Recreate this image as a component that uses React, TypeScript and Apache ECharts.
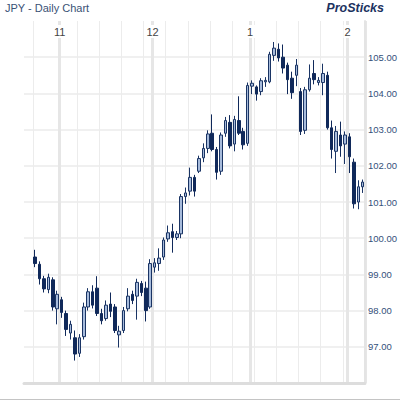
import React, { useEffect, useRef } from "react";
import * as echarts from "echarts";

// Number of daily slots on the axis and empty slots before the first candle
const slotCount = 77;
const leadingEmpty = 2;
const slots = Array.from({ length: slotCount }, (_, i) => String(i));

// Month starts (slot index) and their labels
const monthStarts = [8, 29, 51, 73];
const monthNames = ["11", "12", "1", "2"];

// Weekly grid lines (slot index)
const weekLines = [2, 12, 17, 22, 27, 32, 37, 42, 47, 52, 57, 62, 67, 72];

// Daily candles: [open, close, low, high]
const candles: number[][] = [
  [99.48, 99.3, 99.2, 99.68],
  [99.28, 98.88, 98.72, 99.36],
  [98.88, 98.6, 98.5, 98.96],
  [98.58, 98.92, 98.48, 99.02],
  [98.85, 98.1, 98.0, 98.92],
  [98.05, 98.45, 97.62, 98.55],
  [98.3, 97.95, 97.8, 98.38],
  [97.92, 97.48, 97.3, 98.0],
  [97.38, 97.62, 97.2, 97.72],
  [97.25, 96.8, 96.62, 97.45],
  [96.82, 97.25, 96.72, 97.35],
  [97.28, 98.1, 97.2, 98.22],
  [98.1, 98.52, 98.0, 98.62],
  [98.52, 98.15, 98.06, 98.7],
  [98.62, 97.92, 97.85, 98.95],
  [97.92, 97.72, 97.62, 98.05],
  [97.78, 98.15, 97.72, 98.28],
  [98.18, 97.98, 97.82, 98.5],
  [98.1, 97.45, 97.38, 98.18],
  [97.33, 97.43, 96.98, 97.58],
  [97.45, 98.0, 97.38, 98.1],
  [98.05, 98.4, 97.98, 98.62],
  [98.45, 98.28, 98.18, 98.55],
  [98.4, 98.78, 97.75, 98.88],
  [98.75, 98.5, 98.4, 98.82],
  [98.62, 98.0, 97.7, 98.8],
  [98.1, 99.3, 98.05, 99.42],
  [99.2, 99.32, 99.05, 99.45],
  [99.3, 99.45, 99.1, 99.72],
  [99.48, 99.95, 99.4, 100.02],
  [99.98, 100.15, 99.9, 100.35],
  [100.18, 100.02, 99.6, 100.4],
  [100.02, 100.12, 99.95, 100.2],
  [100.12, 101.15, 100.0, 101.22],
  [101.15, 101.25, 100.95, 101.4],
  [101.3, 101.68, 101.18, 101.95],
  [101.68, 101.3, 101.15, 101.75],
  [101.85, 102.2, 101.8, 102.28],
  [102.22, 102.48, 102.1, 102.62],
  [102.48, 102.88, 102.35, 102.98],
  [102.9, 102.45, 102.4, 103.42],
  [102.45, 101.82, 101.62, 102.52],
  [101.85, 102.85, 101.75, 102.92],
  [102.9, 103.25, 102.8, 103.35],
  [103.2, 102.55, 102.48, 103.4],
  [102.6, 103.28, 102.4, 103.38],
  [103.25, 102.9, 102.85, 103.92],
  [102.95, 102.58, 102.45, 103.05],
  [102.62, 104.22, 102.55, 104.3],
  [104.2, 104.28, 103.98, 104.36],
  [104.18, 103.98, 103.8, 104.22],
  [104.05, 104.35, 103.95, 104.42],
  [104.32, 104.36, 104.18, 104.45],
  [104.32, 105.08, 104.28, 105.15],
  [105.05, 105.25, 104.9, 105.42],
  [105.22, 104.98, 104.88, 105.38],
  [105.0, 104.7, 104.55, 105.35],
  [104.78, 104.38, 103.98, 104.85],
  [104.42, 104.02, 103.85, 104.6],
  [104.5, 104.78, 104.2, 104.95],
  [104.05, 102.95, 102.85, 104.15],
  [102.98, 104.1, 102.88, 104.18],
  [104.1, 104.42, 104.05, 104.8],
  [104.55, 104.38, 104.25, 104.92],
  [104.3, 104.36, 104.22, 104.45],
  [104.3, 104.55, 103.95, 104.82],
  [104.5, 103.05, 103.0, 104.6],
  [103.05, 102.45, 102.2, 103.25],
  [102.4, 102.95, 101.8, 103.1],
  [102.85, 102.55, 102.25, 103.22],
  [102.6, 102.85, 102.05, 102.95],
  [102.8, 102.25, 101.8, 102.9],
  [102.1, 100.95, 100.82, 102.2],
  [101.0, 101.42, 100.8, 101.6],
  [101.42, 101.55, 101.25, 101.62],
];

// Price axis
const priceMin = 96;
const priceMax = 106;
const priceStep = 1;

const titleText = "JPY - Daily Chart";
const brandText = "ProSticks";

export default function App() {
  const ref = useRef<HTMLDivElement>(null);

  useEffect(() => {
    if (!ref.current) return;
    const chart = echarts.init(ref.current, undefined, { renderer: "svg" });
    const seriesData: any[] = [
      ...Array.from({ length: leadingEmpty }, () => "-"),
      ...candles,
    ];
    chart.setOption({
      animation: false,
      backgroundColor: "#ffffff",
      title: [
        {
          text: titleText,
          left: 5,
          top: 2,
          padding: 0,
          textStyle: {
            fontFamily: "Liberation Sans, Arial, sans-serif",
            fontSize: 11,
            fontWeight: "normal",
            color: "#3a5275",
          },
        },
        {
          text: brandText,
          right: 16,
          top: 1,
          padding: 0,
          textStyle: {
            fontFamily: "Liberation Sans, Arial, sans-serif",
            fontSize: 12.5,
            fontWeight: "bold",
            fontStyle: "italic",
            color: "#1c3260",
          },
        },
      ],
      grid: {
        left: 24,
        right: 29.5,
        top: 21,
        bottom: 17,
        containLabel: false,
      },
      xAxis: [
        {
          type: "category",
          data: slots,
          position: "bottom",
          boundaryGap: true,
          axisLine: { show: true, lineStyle: { color: "#dddddd", width: 3 } },
          axisTick: { show: false },
          axisLabel: { show: false },
          splitLine: {
            show: true,
            interval: (i: number) => weekLines.includes(i),
            lineStyle: { color: "#ececec", width: 1 },
          },
        },
        {
          type: "category",
          data: slots,
          position: "top",
          boundaryGap: true,
          axisLine: { show: false },
          axisTick: { show: false },
          axisLabel: {
            show: true,
            inside: true,
            margin: 4,
            interval: (i: number) => monthStarts.includes(i),
            formatter: (_v: string, i: number) => {
              const k = monthStarts.indexOf(i);
              return k >= 0 ? monthNames[k] : "";
            },
            fontFamily: "Liberation Sans, Arial, sans-serif",
            fontSize: 11,
            color: "#444444",
            backgroundColor: "#ffffff",
            padding: [1, 5, 1, 1],
          },
          splitLine: {
            show: true,
            interval: (i: number) => monthStarts.includes(i),
            lineStyle: { color: "#e6e6e6", width: 3 },
          },
        },
      ],
      yAxis: {
        type: "value",
        position: "right",
        min: priceMin,
        max: priceMax,
        interval: priceStep,
        scale: true,
        axisLine: { show: true, lineStyle: { color: "#e4e4e4", width: 2 } },
        axisTick: { show: false },
        axisLabel: {
          show: true,
          margin: 3,
          showMinLabel: false,
          showMaxLabel: false,
          formatter: (v: number) => v.toFixed(2),
          fontFamily: "Liberation Sans, Arial, sans-serif",
          fontSize: 9.5,
          color: "#34507a",
        },
        splitLine: {
          show: true,
          showMaxLine: false,
          lineStyle: { color: "#ebebeb", width: 1.5 },
        },
      },
      graphic: [
        {
          type: "line",
          shape: { x1: 0, y1: 399.5, x2: 400, y2: 399.5 },
          style: { stroke: "#c4c4c4", lineWidth: 1 },
        },
      ],
      series: [
        {
          type: "candlestick",
          xAxisIndex: 0,
          yAxisIndex: 0,
          data: seriesData,
          barWidth: 3,
          itemStyle: {
            color: "#a7bbdb",
            color0: "#10295a",
            borderColor: "#1a3464",
            borderColor0: "#10295a",
            borderWidth: 1,
          },
        },
      ],
    });
    return () => chart.dispose();
  }, []);

  return (
    <div
      ref={ref}
      style={{ position: "absolute", left: 0, top: 0, width: 400, height: 400 }}
    />
  );
}
